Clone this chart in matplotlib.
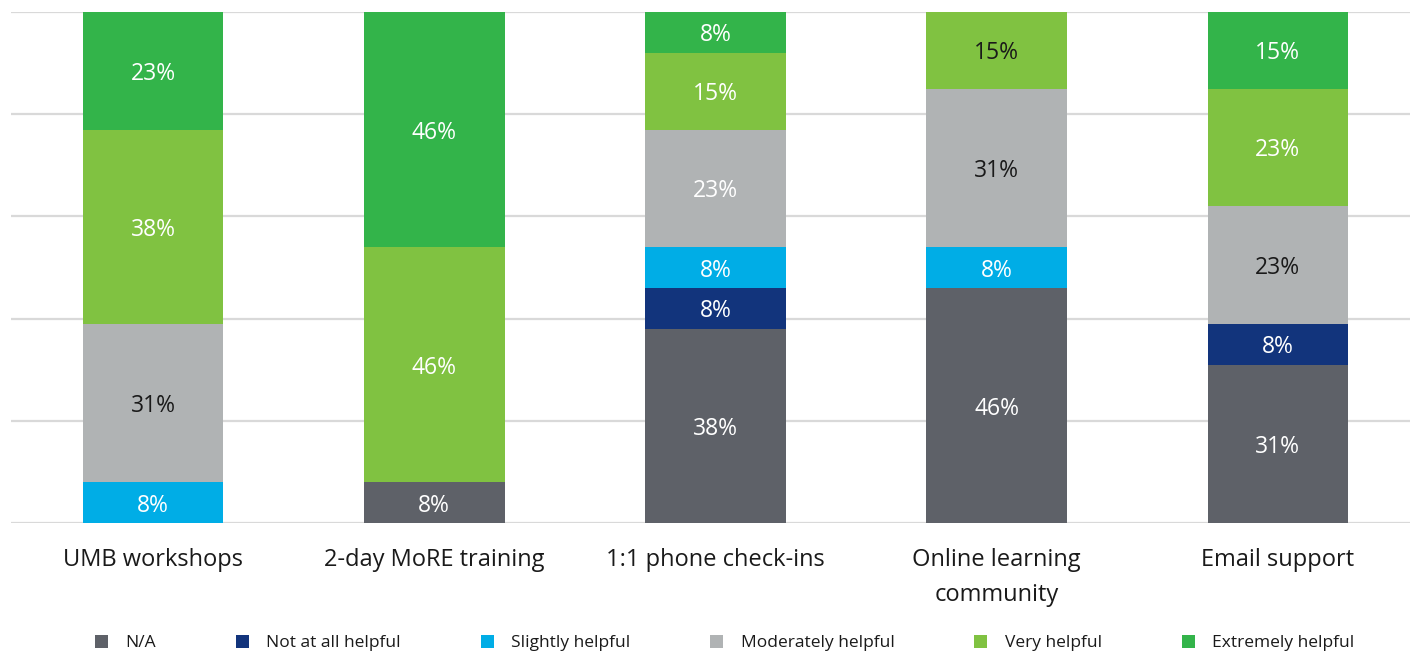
import matplotlib
matplotlib.use("Agg")
import matplotlib.pyplot as plt
from matplotlib.patches import Patch

plt.rcParams['font.family'] = ['Open Sans', 'DejaVu Sans']

# Survey data: share of respondents (%) per support type
categories = ["UMB workshops", "2-day MoRE training", "1:1 phone check-ins",
              "Online learning\ncommunity", "Email support"]
series_names = ["N/A", "Not at all helpful", "Slightly helpful",
                "Moderately helpful", "Very helpful", "Extremely helpful"]

na_vals = [0, 8, 38, 46, 31]
not_at_all_vals = [0, 0, 8, 0, 8]
slightly_vals = [8, 0, 8, 8, 0]
moderately_vals = [31, 0, 23, 31, 23]
very_vals = [38, 46, 15, 15, 23]
extremely_vals = [23, 46, 8, 0, 15]

series_values = [na_vals, not_at_all_vals, slightly_vals,
                 moderately_vals, very_vals, extremely_vals]

colors = ["#5e6168", "#12347c", "#00ade6", "#b0b3b4", "#80c241", "#33b44a"]

# Segments whose value label is drawn in dark text (series index, category index)
dark_labels = {(3, 0), (3, 3), (4, 3), (3, 4)}

fig = plt.figure(figsize=(14.10, 6.57), dpi=100)
ax = fig.add_axes([11 / 1410, 1 - 523 / 657, 1 - 11 / 1410, (523 - 12) / 657])

x = list(range(len(categories)))
bottoms = [0] * len(categories)
for si, (name, vals, col) in enumerate(zip(series_names, series_values, colors)):
    bars = ax.bar(x, vals, width=0.5, bottom=bottoms, color=col, label=name,
                  zorder=3, linewidth=0)
    labels = [f"{v}%" if v else "" for v in vals]
    texts = ax.bar_label(bars, labels=labels, label_type='center', fontsize=16.5)
    for ci, t in enumerate(texts):
        t.set_color("#1a1a1a" if (si, ci) in dark_labels else "white")
        t.set_position((0, -2.2))
    bottoms = [b + v for b, v in zip(bottoms, vals)]

ax.set_xlim(-0.505, 4.47)
ax.set_ylim(0, 100)
ax.set_yticks(range(0, 101, 20))
ax.yaxis.grid(True, color="#d9d9d9", linewidth=1.6, zorder=0)
ax.tick_params(axis='y', left=False, labelleft=False)
ax.set_xticks(x)
ax.set_xticklabels(categories, fontsize=17, color="#1a1a1a", linespacing=1.62)
ax.tick_params(axis='x', length=0, pad=18)
for s in ax.spines.values():
    s.set_visible(False)

handles = [Patch(facecolor=c, edgecolor='none') for c in colors]
fig.legend(handles, series_names, loc='center', bbox_to_anchor=(0.514, 1 - 643 / 657),
           ncol=6, frameon=False, fontsize=12.5, handlelength=0.75, handleheight=0.75,
           handletextpad=1.0, columnspacing=4.6, labelcolor="#1a1a1a")

fig.savefig("out.png", dpi=100)
